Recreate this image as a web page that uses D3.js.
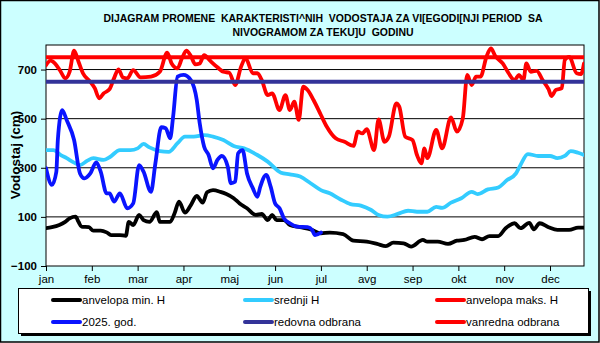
<!DOCTYPE html>
<html><head><meta charset="utf-8">
<script src="https://cdn.jsdelivr.net/npm/d3@7"></script>
<style>body{margin:0;padding:0;background:#fff}svg{display:block}text{font-family:"Liberation Sans",Arial,sans-serif}.pre{white-space:pre}</style>
</head><body>
<svg id="c" width="600" height="343"></svg>
<script>
// ---- data (day index 0..364, water level in cm) ----
const months = ["jan","feb","mar","apr","maj","jun","jul","avg","sep","okt","nov","dec"];
const yTicks = [-100,100,300,500,700];
const minDays = [0,4,9,13,16,20,22,24,29,32,37,41,44,50,54,56,59,63,66,70,75,77,84,87,90,94,98,102,106,109,113,118,122,127,131,136,142,146,150,153,156,161,165,172,179,186,192,201,208,217,224,230,235,242,247,255,258,265,272,278,283,290,295,300,306,311,317,321,327,330,334,340,346,354,360,364];
const minVals = [54,58,67,80,94,101,80,60,58,44,44,37,26,26,23,80,67,108,87,80,119,80,80,115,162,117,148,185,158,200,209,202,193,176,155,135,108,112,87,108,87,87,67,58,49,33,36,30,3,-1,-10,-19,-5,-8,-21,6,-1,-1,-10,3,6,19,9,22,22,54,74,54,76,49,74,58,47,47,56,56];
const meanDays = [0,5,10,14,19,23,28,32,39,43,50,57,62,66,70,77,83,89,94,100,107,113,120,127,134,143,150,159,165,172,179,186,192,199,206,213,220,225,231,238,245,251,258,264,268,274,281,288,292,299,306,312,318,321,326,333,341,346,351,355,360,364];
const meanVals = [372,372,352,339,321,311,329,339,332,343,372,372,379,397,383,368,365,400,427,427,433,427,413,389,379,352,325,280,273,264,237,209,196,172,152,146,128,108,101,112,125,121,121,141,137,158,176,202,193,212,220,250,277,311,356,348,348,339,348,368,361,352];
const maxDays = [0,3,6,10,13,16,19,22,25,30,33,36,39,43,46,49,52,55,59,64,71,77,82,85,89,92,95,98,101,104,107,111,116,120,124,128,132,135,140,143,146,150,153,158,162,165,168,171,174,177,181,186,190,196,202,208,211,214,217,222,225,229,232,237,239,243,248,251,254,256,258,264,268,274,278,282,285,288,291,294,298,301,304,309,313,317,320,323,325,328,332,336,340,342,345,349,351,354,359,362,364];
const maxVals = [718,736,725,691,664,691,777,732,685,650,624,583,603,620,664,701,668,664,698,668,671,691,769,725,705,746,777,755,721,725,759,736,709,691,687,637,712,746,685,685,657,596,603,535,596,535,569,495,630,617,576,515,467,420,406,389,447,440,457,372,497,406,427,562,549,427,413,352,318,379,339,454,379,505,447,501,678,637,671,671,752,786,755,725,685,657,678,657,725,691,695,657,620,592,617,624,739,752,685,682,725];
const curDays = [0,4,7,8,11,14,19,23,26,30,34,37,41,43,46,50,55,59,63,66,71,74,78,81,84,86,89,93,98,102,104,107,110,113,116,119,123,125,128,130,133,136,140,143,145,149,152,155,158,161,165,170,177,180,182,186];
const curVals = [298,230,284,413,535,494,413,277,257,277,322,284,196,196,162,196,135,155,311,284,202,318,465,461,420,508,671,678,657,576,481,386,352,298,332,348,304,237,243,359,372,277,216,182,223,271,223,155,135,94,74,60,58,47,26,36];
const redovna = 650;
const vanredna = 750;
const legendItems = [
  {label:"anvelopa min. H", color:"#000000"},
  {label:"srednji H", color:"#33CCFF"},
  {label:"anvelopa maks. H", color:"#FF0000"},
  {label:"2025. god.", color:"#0A14FF"},
  {label:"redovna odbrana", color:"#333399"},
  {label:"vanredna odbrana", color:"#FF0000"}
];

const svg = d3.select("#c");
const W=600,H=343;
const L=46,R=584,T=45,B=266;

// background
svg.append("rect").attr("x",0.5).attr("y",0.5).attr("width",W-1.5).attr("height",H-1.5)
  .attr("fill","#CCFFFF").attr("stroke","#000").attr("stroke-width",1.5);

// title
svg.append("text").attr("class","pre").attr("text-anchor","middle").attr("font-weight","bold").attr("font-size",11.5).attr("fill","#000")
  .attr("x",323).attr("y",22).attr("textLength",439).attr("lengthAdjust","spacingAndGlyphs")
  .text("DIJAGRAM PROMENE  KARAKTERISTI^NIH  VODOSTAJA ZA VI[EGODI[NJI PERIOD  SA");
svg.append("text").attr("class","pre").attr("text-anchor","middle").attr("font-weight","bold").attr("font-size",11.5).attr("fill","#000")
  .attr("x",323).attr("y",36).attr("textLength",181).attr("lengthAdjust","spacingAndGlyphs")
  .text("NIVOGRAMOM ZA TEKU]U  GODINU");

const x = d3.scaleLinear().domain([0,364]).range([L,R]);
const y = d3.scaleLinear().domain([-100,800]).range([B,T]);

svg.append("rect").attr("x",L).attr("y",T).attr("width",R-L).attr("height",B-T).attr("fill","#fff");

// gridlines
svg.append("g").selectAll("line").data(yTicks.filter(v=>v>-100)).join("line")
  .attr("x1",L).attr("x2",R).attr("y1",d=>y(d)).attr("y2",d=>y(d)).attr("stroke","#000").attr("stroke-width",1);

// axes
const yAxis = d3.axisLeft(y).tickValues(yTicks).tickSize(5).tickFormat(d3.format("d"));
const gy = svg.append("g").attr("transform",`translate(${L},0)`).call(yAxis);
gy.selectAll("text").attr("font-size",11.5).attr("font-weight","bold").attr("font-family","Liberation Sans, Arial").attr("fill","#000").attr("dx",-1);
gy.select(".domain").remove();
gy.selectAll("line").attr("stroke","#000");

const xAxis = d3.axisBottom(x).tickValues(months.map((m,i)=>i*31)).tickSize(5).tickFormat((d,i)=>months[i]);
const gx = svg.append("g").attr("transform",`translate(0,${B})`).call(xAxis);
gx.selectAll("text").attr("font-size",11.5).attr("font-family","Liberation Sans, Arial").attr("fill","#000").attr("dy","0.75em");
gx.select(".domain").remove();
gx.selectAll("line").attr("stroke","#000");

svg.append("rect").attr("x",L).attr("y",T).attr("width",R-L).attr("height",B-T).attr("fill","none").attr("stroke","#000").attr("stroke-width",1);

// y label
svg.append("text").attr("transform","translate(20,155) rotate(-90)").attr("text-anchor","middle")
  .attr("font-weight","bold").attr("font-size",13.5).attr("fill","#000").text("Vodostaj (cm)");

// series
const line = d3.line().x(d=>x(d[0])).y(d=>y(d[1])).curve(d3.curveMonotoneX);
svg.append("clipPath").attr("id","pc").append("rect").attr("x",L).attr("y",T).attr("width",R-L).attr("height",B-T);
const gp = svg.append("g").attr("clip-path","url(#pc)");
function draw(days, vals, color, w){
  gp.append("path").datum(days.map((d,i)=>[d,vals[i]])).attr("d",line)
    .attr("fill","none").attr("stroke",color).attr("stroke-width",w).attr("stroke-linejoin","round").attr("stroke-linecap","round");
}
draw(minDays,minVals,"#000000",3.8);
draw(meanDays,meanVals,"#33CCFF",3.8);
draw(maxDays,maxVals,"#FF0000",3.8);
draw(curDays,curVals,"#0A14FF",3.8);
gp.append("line").attr("x1",L).attr("x2",R).attr("y1",y(redovna)).attr("y2",y(redovna)).attr("stroke","#333399").attr("stroke-width",4);
gp.append("line").attr("x1",L).attr("x2",R).attr("y1",y(vanredna)).attr("y2",y(vanredna)).attr("stroke","#FF0000").attr("stroke-width",4);

// legend
svg.append("rect").attr("x",21).attr("y",291).attr("width",570).attr("height",45).attr("fill","#000");
svg.append("rect").attr("x",18.5).attr("y",288.5).attr("width",570).attr("height",45).attr("fill","#fff").attr("stroke","#000").attr("stroke-width",1);
const cols=[53,245,437], rows=[300,322];
const lg = svg.append("g").selectAll("g").data(legendItems).join("g")
  .attr("transform",(d,i)=>`translate(${cols[i%3]},${rows[Math.floor(i/3)]})`);
lg.append("line").attr("x1",0).attr("x2",27).attr("y1",0).attr("y2",0).attr("stroke",d=>d.color).attr("stroke-width",4).attr("stroke-linecap","round");
lg.append("text").attr("x",29).attr("y",4).attr("font-size",11.5).attr("fill","#000").text(d=>d.label);
</script>
</body></html>
